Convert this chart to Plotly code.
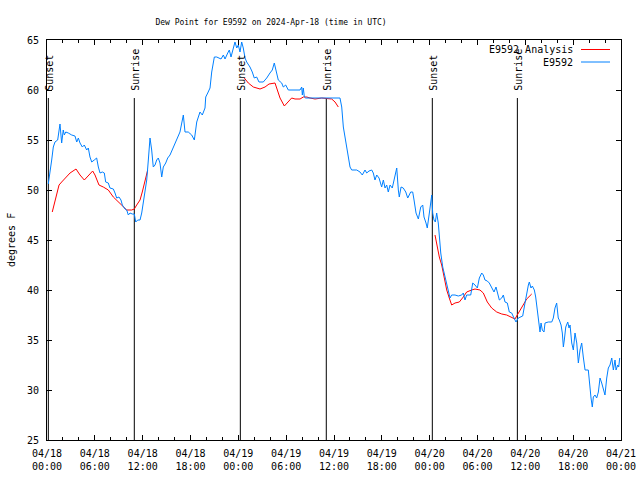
import plotly.graph_objects as go
from datetime import datetime, timedelta

START = datetime(2024, 4, 18)
END = datetime(2024, 4, 21)

# E9592 observed dew point (hours since 04/18 00:00 UTC, degrees F)
obs_hours = [0.16, 0.38, 0.59, 0.79, 1.00, 1.34, 1.51, 1.63, 1.84, 2.04, 2.17, 2.35, 2.67, 3.10, 3.51,
             3.73, 3.93, 4.14, 4.43, 4.68, 4.98, 5.18, 5.39, 5.61, 5.93, 6.23, 6.44, 6.65, 6.94, 7.19,
             7.36, 7.69, 7.90, 8.32, 8.53, 8.74, 9.03, 9.28, 9.45, 9.78, 10.00, 10.20, 10.41, 10.70, 10.95,
             11.13, 11.38, 11.67, 11.88, 12.08, 12.29, 12.51, 12.71, 12.92, 13.13, 13.33, 13.55, 13.76, 13.96, 14.17,
             14.39, 14.59, 14.89, 15.14, 15.43, 16.06, 16.68, 17.10, 17.31, 17.72, 18.15, 18.48, 18.78, 19.19, 19.48,
             19.82, 19.91, 20.16, 20.45, 20.66, 20.99, 21.29, 21.49, 21.83, 22.12, 22.33, 22.67, 22.87, 23.08, 23.37,
             23.58, 23.80, 24.00, 24.21, 24.42, 24.62, 24.84, 25.05, 25.46, 25.75, 26.00, 26.30, 26.59, 27.13, 27.56,
             27.97, 28.26, 28.51, 28.73, 29.01, 29.44, 29.64, 29.94, 30.27, 31.74, 31.95, 32.03, 32.15, 32.28, 32.45,
             36.75, 36.97, 37.17, 37.38, 37.59, 37.79, 38.01, 38.22, 38.85, 39.26, 39.55, 39.89, 40.10, 40.39, 40.73,
             40.93, 41.14, 41.36, 41.65, 41.98, 42.19, 42.40, 42.61, 42.81, 43.03, 43.31, 43.57, 43.87, 44.07, 44.19,
             44.41, 44.69, 45.00, 45.25, 45.62, 45.87, 46.04, 46.29, 46.58, 46.88, 47.13, 47.29, 47.54, 47.70, 47.96,
             48.17, 48.26, 48.38, 48.54, 48.71, 48.88, 49.08, 49.21, 49.39, 49.64, 49.92, 50.14, 50.34, 50.55, 50.76,
             51.18, 51.59, 52.02, 52.22, 52.43, 52.64, 53.15, 53.40, 53.69, 53.98, 54.23, 54.53, 54.73, 54.94, 55.23,
             55.48, 55.78, 56.07, 56.32, 56.49, 56.74, 57.04, 57.24, 57.45, 57.74, 57.99, 58.29, 58.58, 58.83, 59.12,
             59.42, 59.67, 59.96, 60.17, 60.38, 60.50, 60.71, 60.88, 61.13, 61.30, 61.50, 61.72, 61.84, 61.97, 62.13,
             62.34, 62.47, 62.88, 63.31, 63.51, 63.72, 63.93, 64.13, 64.26, 64.48, 64.64, 64.77, 64.89, 65.07, 65.32,
             65.48, 65.61, 65.82, 66.02, 66.23, 66.45, 66.65, 66.86, 67.07, 67.27, 67.49, 67.90, 68.11, 68.24, 68.40,
             68.53, 68.74, 68.95, 69.16, 69.37, 69.58, 69.78, 69.99, 70.21, 70.41, 70.62, 70.84, 71.04, 71.25, 71.38,
             71.59, 71.71, 71.84]
obs_values = [50.6, 51.7, 53.0, 54.3, 54.8, 55.0, 56.0, 56.6, 54.7, 56.0, 55.5, 55.8, 55.7, 55.5, 55.4,
              54.8, 55.2, 54.7, 54.3, 54.5, 54.0, 54.2, 53.3, 52.8, 53.0, 53.2, 52.3, 51.7, 51.8, 51.7,
              50.8, 50.7, 50.2, 50.1, 49.7, 49.2, 49.3, 49.0, 48.5, 48.1, 48.0, 47.5, 47.7, 47.6, 47.6,
              46.8, 47.0, 47.0, 47.7, 48.7, 49.7, 51.0, 53.0, 55.2, 54.0, 52.3, 52.5, 53.0, 53.2, 52.7,
              51.3, 52.3, 52.7, 53.2, 53.5, 54.7, 55.8, 57.5, 55.8, 55.8, 55.5, 55.0, 56.8, 57.8, 57.5,
              58.2, 59.3, 59.7, 60.2, 61.8, 63.3, 63.3, 63.2, 63.1, 63.5, 63.1, 63.7, 64.0, 63.3, 64.2,
              64.8, 64.2, 64.5, 63.8, 64.8, 64.2, 63.2, 62.8, 62.3, 61.8, 61.2, 61.3, 60.8, 60.8, 61.2,
              61.7, 62.0, 62.7, 61.8, 61.0, 60.7, 60.3, 60.5, 60.0, 60.0, 60.3, 59.5, 60.2, 59.3, 59.2,
              59.2, 58.3, 56.3, 55.3, 54.3, 53.3, 52.3, 52.0, 52.0, 51.8, 51.5, 52.0, 51.7, 51.9, 52.0,
              51.7, 51.0, 51.5, 51.2, 50.3, 51.0, 50.2, 50.5, 49.8, 50.5, 50.2, 51.3, 52.2, 50.0, 49.3,
              50.3, 50.2, 49.8, 49.2, 49.8, 49.8, 49.0, 47.7, 47.1, 48.3, 48.5, 47.3, 46.7, 46.2, 47.7,
              49.0, 49.5, 47.7, 47.0, 46.8, 47.7, 46.7, 45.3, 43.7, 42.3, 41.3, 40.7, 40.0, 39.2, 39.5,
              39.5, 39.4, 39.5, 39.7, 39.0, 39.5, 39.5, 40.7, 40.5, 40.2, 41.2, 41.7, 41.5, 41.0, 40.9,
              40.7, 40.3, 39.8, 40.3, 39.7, 39.0, 39.2, 39.5, 38.8, 38.7, 37.8, 37.7, 37.2, 36.8, 37.2,
              37.3, 37.4, 38.7, 39.7, 40.5, 40.8, 40.2, 40.4, 40.0, 39.3, 37.8, 36.7, 35.8, 36.7, 36.0,
              35.8, 36.7, 36.8, 36.8, 37.2, 38.2, 38.7, 37.2, 37.0, 36.5, 35.7, 34.3, 35.0, 36.3, 36.8,
              36.2, 36.5, 34.7, 34.0, 35.7, 34.7, 32.7, 34.0, 34.7, 33.3, 32.0, 32.0, 30.0, 29.2, 28.3,
              29.3, 29.5, 29.2, 29.8, 31.2, 30.7, 30.0, 29.5, 31.2, 32.2, 32.5, 33.2, 32.0, 33.0, 32.0,
              32.5, 32.3, 33.2]

# E9592 Analysis (None = gap between night-time segments)
ana_hours = [0.66, 1.00, 1.51, 1.84, 2.26, 2.89, 3.64, 4.14, 4.68, 5.18, 5.73, 6.02, 6.52, 7.06, 7.69,
             8.32, 8.94, 9.57, 10.00, 10.62, 10.95, 11.25, 11.67, 11.95, 12.29, 12.63, None,
             24.75, 25.25, 25.88, 26.72, 27.35, 27.85, 28.60, 28.94, 29.23, 29.77, 30.27, 30.69, 31.11, 31.74,
             32.15, 32.58, 32.99, 33.62, 34.46, 35.71, 36.13, 36.54, None,
             48.67, 48.96, 49.21, 49.51, 49.80, 50.14, 50.46, 50.76, 51.18, 51.72, 52.22, 52.64, 53.27, 53.69,
             54.31, 54.73, 55.23, 55.78, 56.41, 57.04, 57.66, 58.29, 58.70, 58.99, 59.33, 59.67, 60.17, 60.80]
ana_values = [47.8, 49.0, 50.5, 50.8, 51.2, 51.7, 52.1, 51.5, 51.0, 51.4, 51.9, 51.5, 50.5, 50.3, 50.0,
              49.3, 48.8, 48.3, 48.0, 48.0, 48.1, 48.5, 49.0, 49.8, 50.8, 52.0, None,
              61.2, 60.7, 60.3, 60.1, 60.3, 60.6, 60.7, 60.0, 59.2, 58.4, 58.9, 59.2, 59.1, 59.1,
              59.3, 59.3, 59.2, 59.1, 59.2, 59.1, 58.8, 58.3, None,
              45.5, 44.3, 43.3, 42.5, 41.3, 40.0, 39.2, 38.5, 38.7, 38.8, 39.3, 39.8, 40.0, 40.1,
              40.0, 39.7, 38.8, 38.2, 37.8, 37.6, 37.5, 37.3, 37.1, 37.5, 38.0, 38.5, 39.1, 39.6]

# Sun events (UTC)
sun_labels = ["Sunset", "Sunrise", "Sunset", "Sunrise", "Sunset", "Sunrise"]
sun_times = ["2024-04-18 00:10", "2024-04-18 10:57", "2024-04-19 00:15",
             "2024-04-19 11:02", "2024-04-20 00:20", "2024-04-20 11:00"]

series_names = ["E9592 Analysis", "E9592"]
series_colors = ["#ff0000", "#0080ff"]

TITLE = "Dew Point for E9592 on 2024-Apr-18 (time in UTC)"
FONT = "DejaVu Sans Mono"


def to_time(h):
    return None if h is None else START + timedelta(hours=h)


fig = go.Figure()
fig.add_trace(go.Scatter(x=[to_time(h) for h in ana_hours], y=ana_values, mode="lines",
                         name=series_names[0], line=dict(color=series_colors[0], width=1),
                         connectgaps=False, showlegend=False))
fig.add_trace(go.Scatter(x=[to_time(h) for h in obs_hours], y=obs_values, mode="lines",
                         name=series_names[1], line=dict(color=series_colors[1], width=1),
                         showlegend=False))

for lab, t in zip(sun_labels, sun_times):
    fig.add_shape(type="line", xref="x", yref="y", x0=t, x1=t, y0=25, y1=59.2,
                  line=dict(color="black", width=1), layer="below")
    fig.add_annotation(x=t, y=59.75, xref="x", yref="y", text=lab, textangle=-90,
                       showarrow=False, xanchor="center", yanchor="bottom", xshift=1,
                       font=dict(family=FONT, size=10, color="black"))

# key (gnuplot style: text left of sample line)
W, H = 640, 480
L, R, T, B = 47, 19, 40, 40
pw, ph = W - L - R, H - T - B
def px(x):
    return (x - L) / pw
def py(y):
    return 1 - (y - T) / ph

for i, (nm, col) in enumerate(zip(series_names, series_colors)):
    yy = 49.5 + 12.5 * i
    fig.add_annotation(x=px(575), y=py(yy), xref="paper", yref="paper", text=nm,
                       showarrow=False, xanchor="right", yanchor="middle",
                       font=dict(family=FONT, size=10, color="black"))
    fig.add_shape(type="line", xref="paper", yref="paper", x0=px(581), x1=px(610),
                  y0=py(yy), y1=py(yy), line=dict(color=col, width=1))

fig.add_annotation(x=px(11), y=0.5, xref="paper", yref="paper", text="degrees F",
                   textangle=-90, showarrow=False, xanchor="center", yanchor="middle",
                   font=dict(family=FONT, size=10, color="black"))

fig.update_layout(
    width=W, height=H,
    margin=dict(l=L, r=R, t=T, b=B, pad=0, autoexpand=False),
    paper_bgcolor="white", plot_bgcolor="white",
    font=dict(family=FONT, size=10, color="black"),
    title=dict(text=TITLE, x=271 / W, xref="container", xanchor="center",
               y=1 - 22 / H, yref="container", yanchor="middle",
               font=dict(family=FONT, size=8, color="black"), automargin=False),
    showlegend=False,
)
fig.update_xaxes(type="date", range=[START, END], dtick=6 * 3600 * 1000,
                 tick0=START, tickformat="%m/%d<br>%H:%M", automargin=False,
                 ticks="inside", ticklen=5, tickcolor="black", tickwidth=1,
                 ticklabelstandoff=4,
                 minor=dict(dtick=2 * 3600 * 1000, ticks="inside", ticklen=3,
                            tickcolor="black", showgrid=False),
                 showline=True, linecolor="black", linewidth=1, mirror="allticks",
                 showgrid=False, zeroline=False,
                 tickfont=dict(family=FONT, size=10, color="black"))
fig.update_yaxes(range=[25, 65], dtick=5, tick0=25, automargin=False,
                 ticks="inside", ticklen=5, tickcolor="black", tickwidth=1,
                 ticklabelstandoff=5,
                 showline=True, linecolor="black", linewidth=1, mirror="allticks",
                 showgrid=False, zeroline=False,
                 tickfont=dict(family=FONT, size=10, color="black"))

fig.write_html("out.html", config={"displayModeBar": False},
               post_script="document.body.style.margin='0';document.body.style.padding='0';")
